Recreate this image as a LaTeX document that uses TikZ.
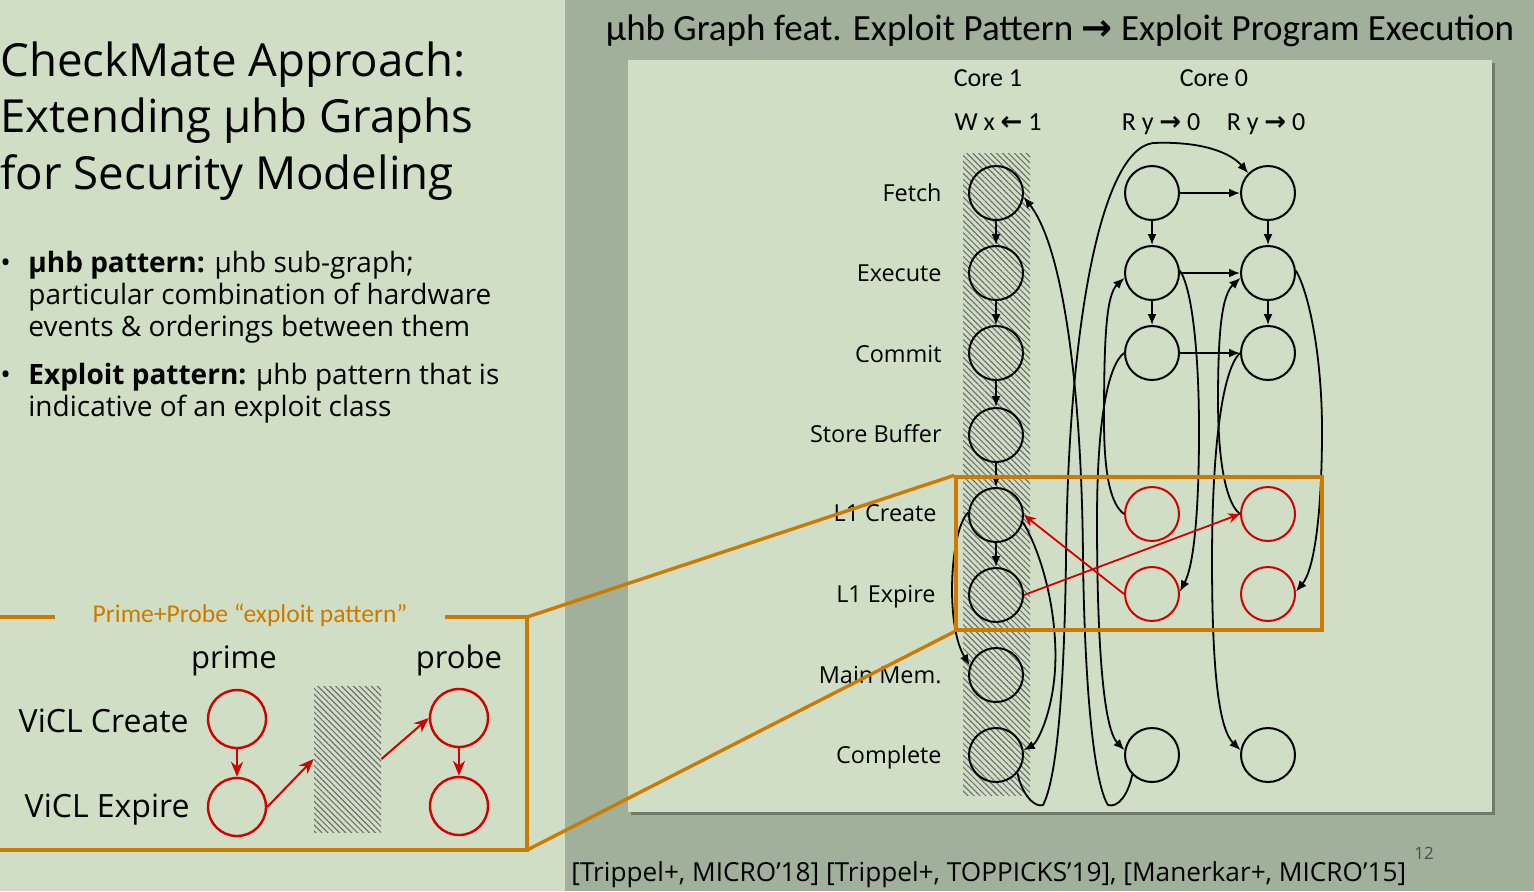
\documentclass[tikz,border=0pt]{standalone}
\usepackage{fontspec}
\setmainfont{Open Sans}
\newfontfamily\carlito{Carlito}
\newfontfamily\arrowfont{DejaVu Sans}
\usetikzlibrary{arrows.meta,patterns.meta}
\definecolor{sage}{RGB}{207,222,196}
\definecolor{slate}{RGB}{160,176,155}
\definecolor{amber}{RGB}{204,122,0}
\definecolor{crimson}{RGB}{210,0,0}

\begin{document}
\begin{tikzpicture}[x=0.5pt,y=0.5pt,
  ev/.style={circle,draw=black,line width=1pt,minimum size=27pt},
  leak/.style={ev,draw=crimson},
  big/.style={line width=1.2pt,minimum size=29pt},
  hb/.style={-{Latex[length=5.5pt,width=4.5pt]},line width=0.9pt},
  rhb/.style={-{Stealth[length=6pt,width=5pt]},line width=0.9pt,crimson},
  hatch/.style={pattern={Lines[angle=-45,distance=2.1pt,line width=0.5pt]},pattern color=black!60},
  lbl/.style={anchor=base east,font=\fontsize{11.7}{14}\selectfont},
  core/.style={anchor=base,font=\carlito\fontsize{13}{15}\selectfont},
  frame/.style={amber,line width=1.7pt}]
\tikzstyle{every node}+=[inner sep=0pt]
\fill [sage] (0,0) rectangle (1534,-891);
\fill [slate] (565,0) rectangle (1534,-891);
\fill [slate!70!black] (631,-63) rectangle (1495,-815);
\fill [sage] (628,-60) rectangle (1492,-812);
\useasboundingbox (0,0) rectangle (1534,-891);
\node [anchor=base west,font=\fontsize{22.8}{27}\selectfont] (title1) at (0,-76) {CheckMate Approach:};
\node [anchor=base west,font=\fontsize{22.8}{27}\selectfont] (title2) at (0,-132) {Extending μhb Graphs};
\node [anchor=base west,font=\fontsize{22.8}{27}\selectfont] (title3) at (0,-189) {for Security Modeling};
\node [anchor=base west,font=\fontsize{14}{16}\selectfont] (dot1) at (0,-272) {•};
\node [anchor=base west,font=\fontsize{14}{16}\selectfont] (uhb1) at (28,-272) {\bfseries μhb pattern: \mdseries μhb sub-graph;};
\node [anchor=base west,font=\fontsize{14}{16}\selectfont] (uhb2) at (28,-304) {particular combination of hardware};
\node [anchor=base west,font=\fontsize{14}{16}\selectfont] (uhb3) at (28,-336) {events \& orderings between them};
\node [anchor=base west,font=\fontsize{14}{16}\selectfont] (dot2) at (0,-384) {•};
\node [anchor=base west,font=\fontsize{14}{16}\selectfont] (expl1) at (28,-384) {\bfseries Exploit pattern: \mdseries μhb pattern that is};
\node [anchor=base west,font=\fontsize{14}{16}\selectfont] (expl2) at (28,-416) {indicative of an exploit class};
\node [anchor=base,font=\carlito\fontsize{18.5}{22}\selectfont] (head) at (1060,-40) {μhb Graph feat. Exploit Pattern {\arrowfont\bfseries →} Exploit Program Execution};
\node [core] (core1) at (988,-86) {Core 1};
\node [core] (core0) at (1214,-86) {Core 0};
\node [core] (wx) at (998,-130) {W x {\arrowfont\bfseries ←} 1};
\node [core] (ry1) at (1161,-130) {R y {\arrowfont\bfseries →} 0};
\node [core] (ry2) at (1266,-130) {R y {\arrowfont\bfseries →} 0};
\node [lbl] (fetchlbl) at (942,-201) {Fetch};
\node [lbl] (execlbl) at (942,-281) {Execute};
\node [lbl] (commitlbl) at (942,-362) {Commit};
\node [lbl] (sblbl) at (942,-442) {Store Buffer};
\node [lbl] (createlbl) at (937,-521) {L1 Create};
\node [lbl] (expirelbl) at (936,-602) {L1 Expire};
\node [lbl] (memlbl) at (942,-683) {Main Mem.};
\node [lbl] (donelbl) at (942,-763) {Complete};
\fill [hatch] (963,-153) rectangle (1030,-795);
\node [ev] (fetch1) at (996,-193) {};
\node [ev] (exec1) at (996,-273) {};
\node [ev] (commit1) at (996,-353) {};
\node [ev] (sb1) at (996,-435) {};
\node [ev] (create1) at (996,-515) {};
\node [ev] (expire1) at (996,-595) {};
\node [ev] (mem1) at (996,-675) {};
\node [ev] (done1) at (996,-755) {};
\node [ev] (fetcha) at (1152,-193) {};
\node [ev] (execa) at (1152,-273) {};
\node [ev] (commita) at (1152,-353) {};
\node [leak] (createa) at (1152,-514) {};
\node [leak] (expirea) at (1152,-594) {};
\node [ev] (donea) at (1152,-755) {};
\node [ev] (fetchb) at (1268,-193) {};
\node [ev] (execb) at (1268,-273) {};
\node [ev] (commitb) at (1268,-353) {};
\node [leak] (createb) at (1268,-514) {};
\node [leak] (expireb) at (1268,-594) {};
\node [ev] (doneb) at (1268,-755) {};
\draw [hb] (fetch1) -- (exec1);
\draw [hb] (exec1) -- (commit1);
\draw [hb] (commit1) -- (sb1);
\draw [hb] (sb1) -- (create1);
\draw [hb] (create1) -- (expire1);
\draw [hb] (fetcha) -- (execa);
\draw [hb] (execa) -- (commita);
\draw [hb] (fetchb) -- (execb);
\draw [hb] (execb) -- (commitb);
\draw [hb] (fetcha) -- (fetchb);
\draw [hb] (execa) -- (execb);
\draw [hb] (commita) -- (commitb);
\draw [hb] (create1.175) .. controls (950,-530) and (945,-625) .. (mem1.160);
\draw [hb] (create1.-15) .. controls (1045,-560) and (1058,-620) .. (1055,-670) .. controls (1052,-715) and (1037,-743) .. (done1.10);
\draw [hb] (done1.-40) .. controls (1022,-795) and (1035,-808) .. (1043,-805) .. controls (1056,-780) and (1064,-700) .. (1066,-560) .. controls (1068,-330) and (1100,-150) .. (1153,-143) .. controls (1200,-141) and (1230,-152) .. (fetchb.135);
\draw [hb] (donea.-135) .. controls (1128,-795) and (1118,-808) .. (1108,-805) .. controls (1095,-785) and (1085,-700) .. (1083,-560) .. controls (1082,-400) and (1065,-250) .. (fetch1.-8);
\draw [hb] (createa.180) .. controls (1112,-505) and (1104,-480) .. (1104,-420) .. controls (1104,-340) and (1106,-295) .. (execa.190);
\draw [hb] (commita.180) .. controls (1108,-365) and (1097,-420) .. (1097,-520) .. controls (1097,-640) and (1103,-728) .. (donea.170);
\draw [hb] (execa.5) .. controls (1193,-290) and (1199,-360) .. (1199,-430) .. controls (1199,-510) and (1194,-565) .. (expirea.5);
\draw [hb] (execb.5) .. controls (1310,-295) and (1322,-360) .. (1322,-430) .. controls (1322,-515) and (1314,-570) .. (expireb.5);
\draw [hb] (createb.180) .. controls (1228,-505) and (1218,-470) .. (1218,-400) .. controls (1218,-330) and (1222,-295) .. (execb.190);
\draw [hb] (commitb.180) .. controls (1222,-370) and (1212,-450) .. (1212,-560) .. controls (1212,-680) and (1220,-730) .. (doneb.170);
\draw [rhb] (expire1.east) -- (createb.west);
\draw [rhb] (expirea.west) -- (create1.east);
\node [draw=amber,line width=1.7pt,minimum width=183pt,minimum height=76.5pt] (window) at (1139,-553.5) {};
\node [anchor=base,font=\carlito\fontsize{12.8}{15}\selectfont,text=amber] (patternlbl) at (250,-622) {Prime+Probe “exploit pattern”};
\node [anchor=base,font=\fontsize{15.5}{18}\selectfont] (primelbl) at (234,-668) {prime};
\node [anchor=base,font=\fontsize{15.5}{18}\selectfont] (probelbl) at (459,-668) {probe};
\node [anchor=base east,font=\fontsize{16}{19}\selectfont] (vcreatelbl) at (189,-732) {ViCL Create};
\node [anchor=base east,font=\fontsize{16}{19}\selectfont] (vexpirelbl) at (190,-817) {ViCL Expire};
\node [leak,big] (pcreate) at (237,-719) {};
\node [leak,big] (pexpire) at (237,-807) {};
\node [hatch,minimum width=33.5pt,minimum height=73pt] (drain) at (347.5,-759) {};
\node [leak,big] (qcreate) at (459,-718) {};
\node [leak,big] (qexpire) at (459,-806) {};
\draw [rhb,-{Stealth[length=7.5pt,width=6pt]},line width=1pt] (pcreate) -- (pexpire);
\draw [rhb,-{Stealth[length=7.5pt,width=6pt]},line width=1pt] (pexpire.east) -- (drain.west);
\draw [rhb,-{Stealth[length=7.5pt,width=6pt]},line width=1pt] (drain.east) -- (qcreate.west);
\draw [rhb,-{Stealth[length=7.5pt,width=6pt]},line width=1pt] (qcreate) -- (qexpire);
\coordinate (pnw) at (527,-617);
\coordinate (psw) at (527,-850);
\draw [frame] (0,-617) -- (55,-617) (445,-617) -- (pnw) -- (psw) -- (0,-850);
\draw [frame] (pnw) -- (window.north west);
\draw [frame] (psw) -- (window.south west);
\node [anchor=base west,font=\fontsize{13.1}{15}\selectfont] (refs) at (571,-881) {[Trippel+, MICRO’18] [Trippel+, TOPPICKS’19], [Manerkar+, MICRO’15]};
\node [anchor=base west,font=\fontsize{8.5}{10}\selectfont,text=black!70] (page) at (1414,-859) {12};
\end{tikzpicture}
\end{document}
